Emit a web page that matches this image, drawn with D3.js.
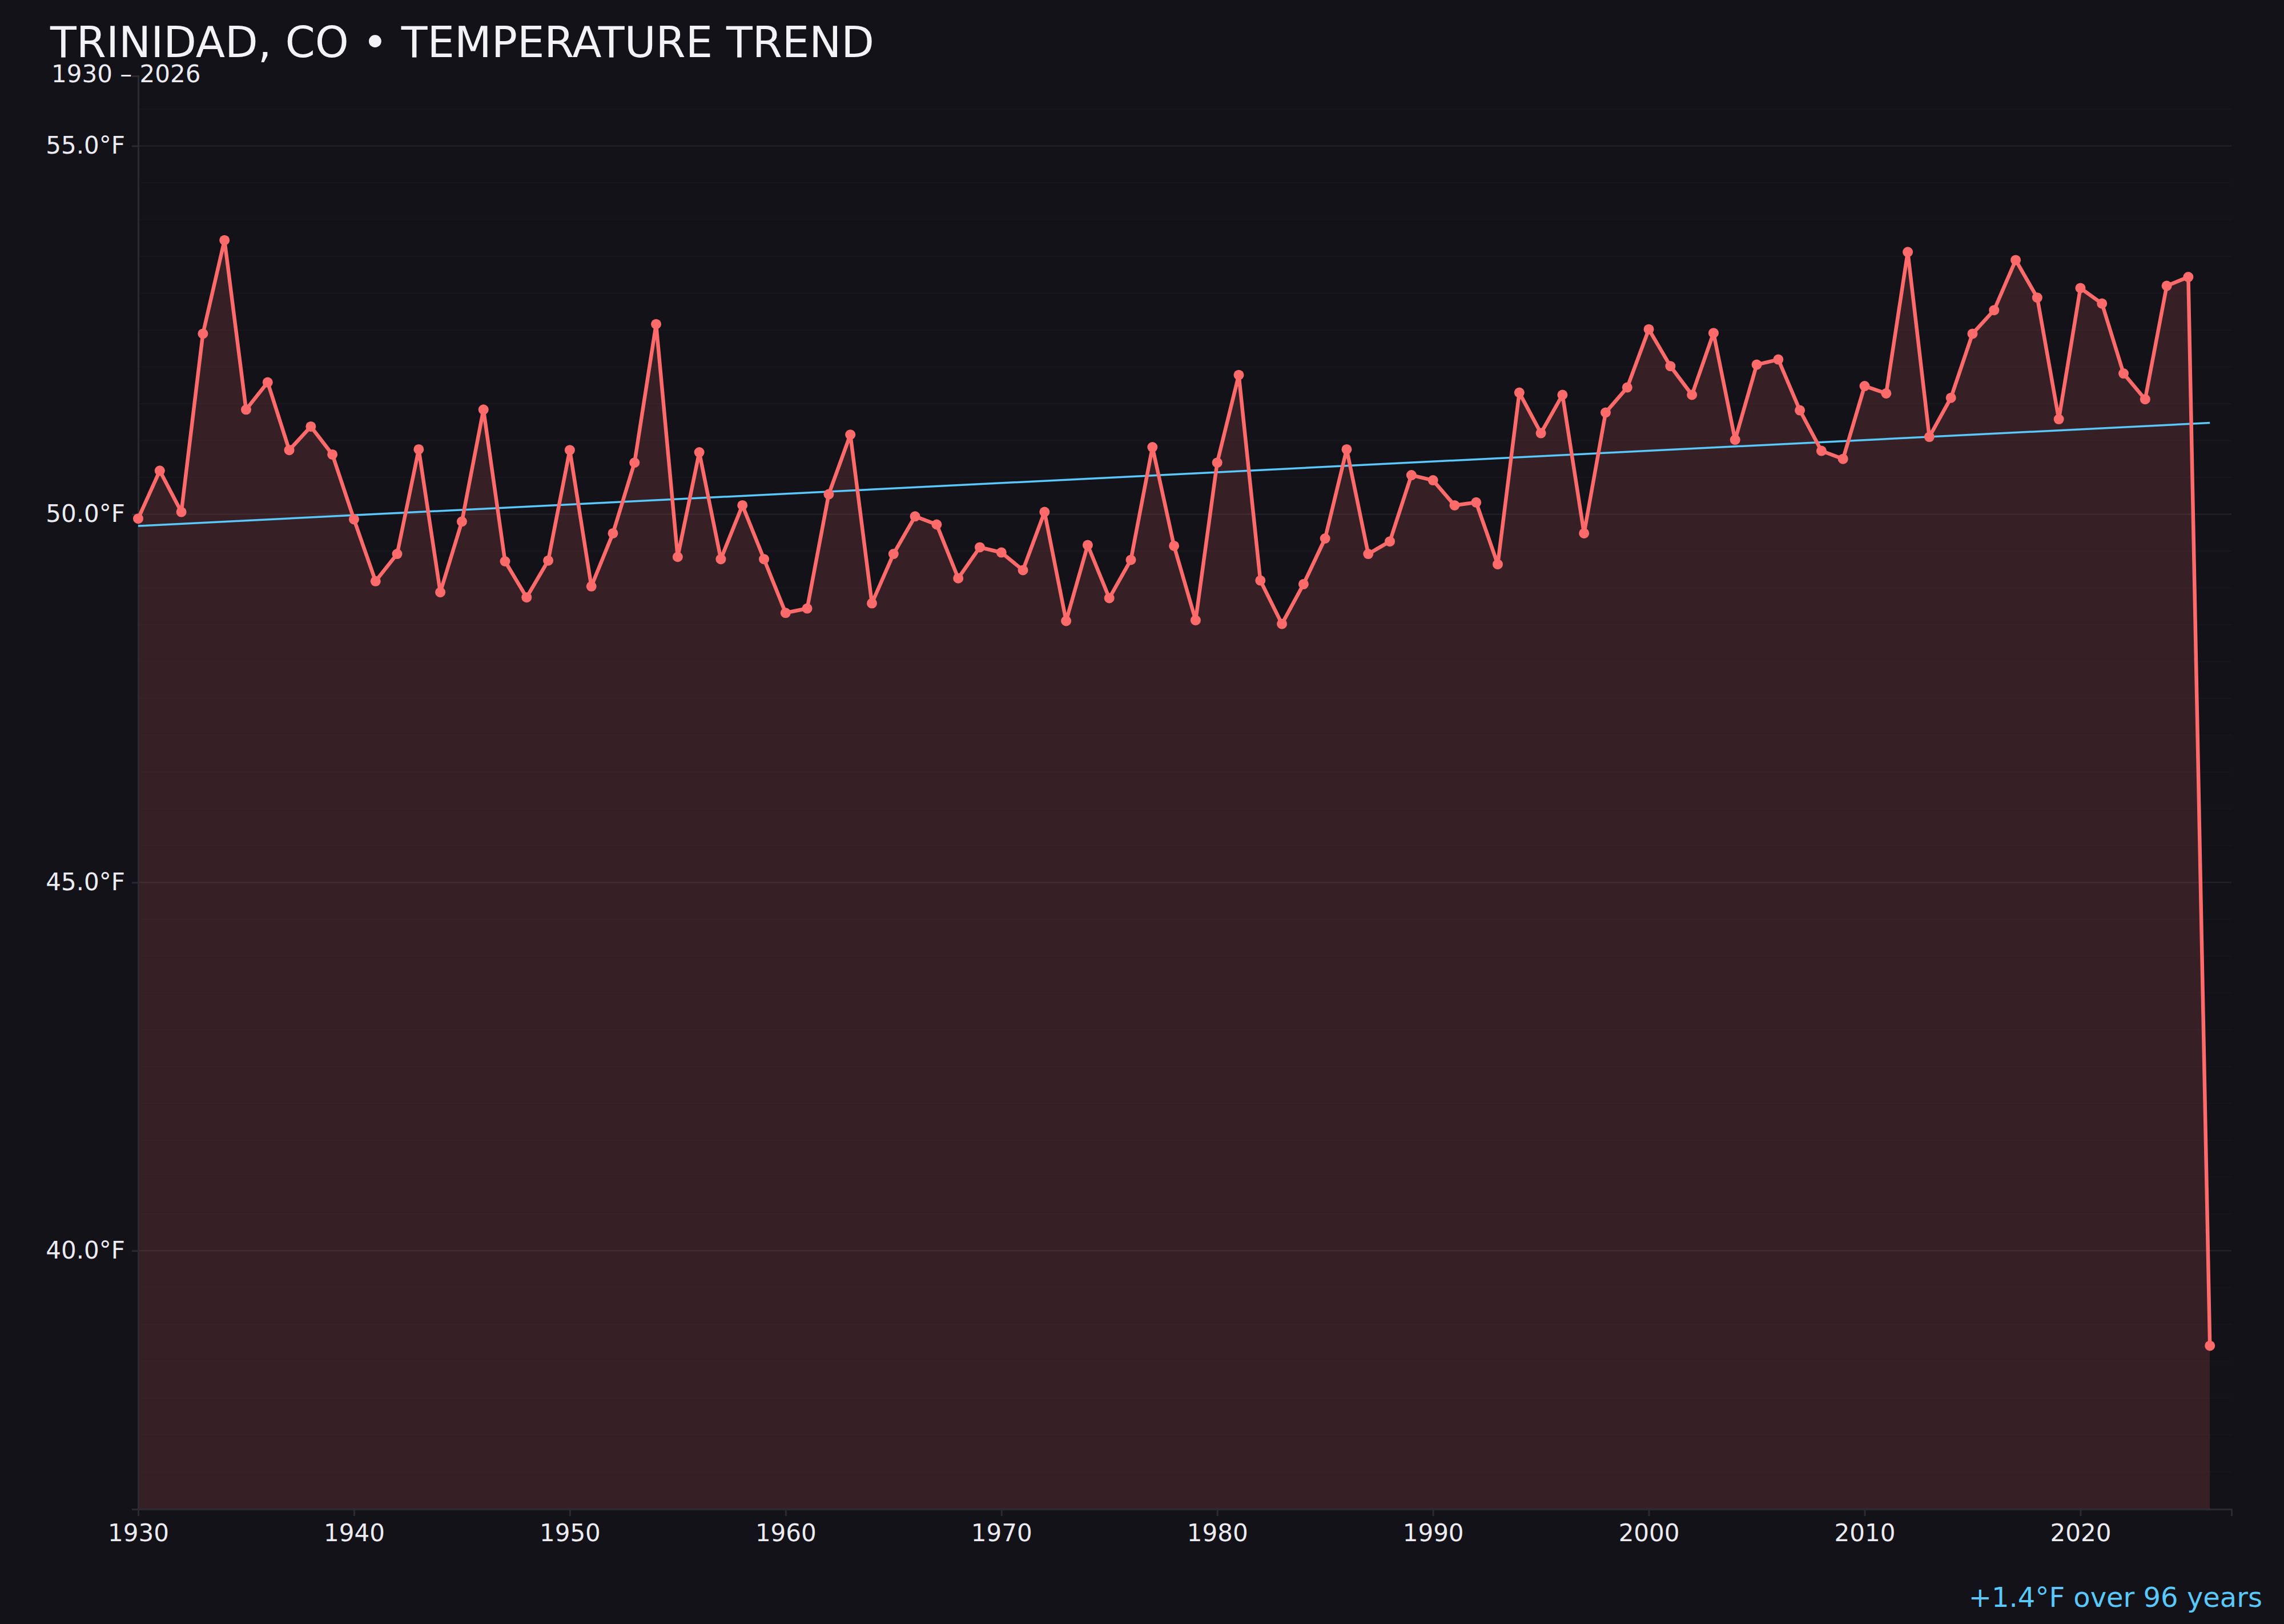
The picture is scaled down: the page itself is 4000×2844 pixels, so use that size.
<!DOCTYPE html>
<html>
<head>
<meta charset="utf-8">
<script src="https://cdn.jsdelivr.net/npm/d3@7"></script>
<style>
  html, body { margin: 0; padding: 0; background: #131219; }
  svg { display: block; }
  text { font-family: "DejaVu Sans", sans-serif; }
</style>
</head>
<body>
<svg id="chart" width="4000" height="2844"></svg>
<script>
// ---- data ----
const years = d3.range(1930, 2027);
const temps = [
  49.94, 50.59, 50.03, 52.45, 53.72, 51.42, 51.79, 50.87, 51.19, 50.81,
  49.93, 49.09, 49.46, 50.88, 48.94, 49.90, 51.42, 49.36, 48.87, 49.37,
  50.87, 49.02, 49.74, 50.70, 52.58, 49.42, 50.84, 49.39, 50.12, 49.39,
  48.66, 48.72, 50.27, 51.08, 48.79, 49.46, 49.97, 49.86, 49.13, 49.55,
  49.48, 49.24, 50.03, 48.55, 49.58, 48.86, 49.38, 50.91, 49.57, 48.56,
  50.70, 51.89, 49.10, 48.51, 49.05, 49.67, 50.88, 49.46, 49.63, 50.53,
  50.46, 50.12, 50.16, 49.32, 51.65, 51.10, 51.62, 49.74, 51.38, 51.72,
  52.51, 52.01, 51.62, 52.46, 51.01, 52.03, 52.10, 51.41, 50.86, 50.75,
  51.74, 51.64, 53.56, 51.05, 51.58, 52.45, 52.77, 53.45, 52.94, 51.29,
  53.07, 52.86, 51.91, 51.56, 53.10, 53.22, 38.71
];
const trendYears = [1930, 2026];
const trendTemps = [49.84, 51.24];
const xTickYears = [1930, 1940, 1950, 1960, 1970, 1980, 1990, 2000, 2010, 2020];
const yTickTemps = [40, 45, 50, 55];
const gridTemps = d3.range(36.5, 56, 0.5);
const titleText = "TRINIDAD, CO • TEMPERATURE TREND";
const subtitleText = "1930 – 2026";

// ---- layout ----
const W = 4000, H = 2844;
const plot = { left: 242, right: 3908, top: 133, bottom: 2643 };
const lineColor = "#ff6b6b";
const trendColor = "#5ac8fa";
const textColor = "#ecebf2";

const svg = d3.select("#chart");
svg.append("rect").attr("width", W).attr("height", H).attr("fill", "#131219");

const x = d3.scaleLinear().domain([1930, 2027]).range([plot.left, plot.right]);
const y = d3.scaleLinear().domain([36.49, 55.95]).range([plot.bottom, plot.top]);

const data = years.map((yr, i) => ({ year: yr, t: temps[i] }));

// gridlines
svg.append("g").selectAll("line").data(gridTemps).join("line")
  .attr("x1", plot.left).attr("x2", plot.right)
  .attr("y1", d => y(d)).attr("y2", d => y(d))
  .attr("stroke", d => (d % 5 === 0) ? "#222128" : "#17161d")
  .attr("stroke-width", d => (d % 5 === 0) ? 2.5 : 2);

// area fill
const area = d3.area().x(d => x(d.year)).y0(plot.bottom).y1(d => y(d.t));
svg.append("path").datum(data)
  .attr("d", area)
  .attr("fill", lineColor).attr("fill-opacity", 0.15);

// axes
const yAxis = d3.axisLeft(y).tickValues(yTickTemps)
  .tickFormat(d => d3.format(".1f")(d) + "°F").tickSize(11).tickPadding(12);
const gy = svg.append("g").attr("transform", `translate(${plot.left},0)`).call(yAxis);
gy.select(".domain").attr("stroke", "#2a2a33").attr("stroke-width", 3);
gy.selectAll(".tick line").attr("stroke", "#2a2a33").attr("stroke-width", 3);
gy.selectAll(".tick text").attr("fill", textColor).style("font-size", "42px")
  .style("font-family", "'DejaVu Sans', sans-serif");

const xAxis = d3.axisBottom(x).tickValues(xTickYears)
  .tickFormat(d3.format("d")).tickSize(12).tickPadding(14);
const gx = svg.append("g").attr("transform", `translate(0,${plot.bottom})`).call(xAxis);
gx.select(".domain").attr("stroke", "#2a2a33").attr("stroke-width", 3);
gx.selectAll(".tick line").attr("stroke", "#2a2a33").attr("stroke-width", 3);
gx.selectAll(".tick text").attr("fill", textColor).style("font-size", "42px")
  .style("font-family", "'DejaVu Sans', sans-serif");

// trend line
const trendData = trendYears.map((yr, i) => ({ year: yr, t: trendTemps[i] }));
svg.append("path").datum(trendData)
  .attr("d", d3.line().x(d => x(d.year)).y(d => y(d.t)))
  .attr("fill", "none").attr("stroke", trendColor).attr("stroke-width", 3.5);

// temperature line
svg.append("path").datum(data)
  .attr("d", d3.line().x(d => x(d.year)).y(d => y(d.t)))
  .attr("fill", "none").attr("stroke", lineColor)
  .attr("stroke-width", 6.5).attr("stroke-linejoin", "round");

svg.append("g").selectAll("circle").data(data).join("circle")
  .attr("cx", d => x(d.year)).attr("cy", d => y(d.t)).attr("r", 9)
  .attr("fill", lineColor);

// titles
svg.append("text").attr("x", 88).attr("y", 100)
  .attr("fill", "#f3f2f7").style("font-size", "75px").text(titleText);
svg.append("text").attr("x", 90).attr("y", 144)
  .attr("fill", textColor).style("font-size", "42px").text(subtitleText);

// annotation
const delta = trendTemps[1] - trendTemps[0];
const span = trendYears[1] - trendYears[0];
svg.append("text").attr("x", 3962).attr("y", 2814).attr("text-anchor", "end")
  .attr("fill", trendColor).style("font-size", "48px")
  .text(`${delta >= 0 ? "+" : ""}${delta.toFixed(1)}°F over ${span} years`);
</script>
</body>
</html>
